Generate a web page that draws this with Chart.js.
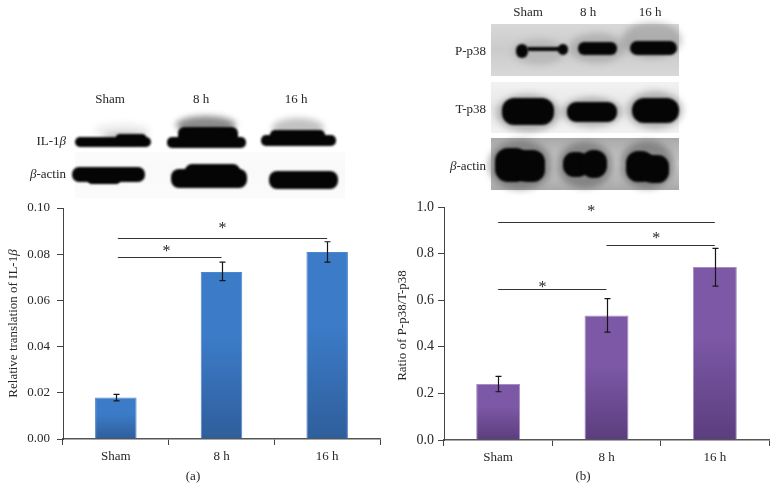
<!DOCTYPE html>
<html>
<head>
<meta charset="utf-8">
<title>IL-1b and P-p38</title>
<script src="https://cdn.jsdelivr.net/npm/chart.js@4"></script>
<style>
    html, body { margin: 0; padding: 0; background: #fff; overflow: hidden; }
    canvas { position: absolute; top: 0; }
    #chart-a { left: 0; }
    #chart-b { left: 389px; }
</style>
</head>
<body>
<canvas id="chart-a" width="389" height="491"></canvas>
<canvas id="chart-b" width="389" height="491"></canvas>
<script>
const categories = ['Sham', '8 h', '16 h'];

// panel (a)
const il1Values = [0.018, 0.0723, 0.0809];
const il1High = [0.0193, 0.0766, 0.0854];
const il1Low = [0.0165, 0.0686, 0.0766];
const il1Ticks = ['0.00', '0.02', '0.04', '0.06', '0.08', '0.10'];
// [from category, to category, level]
const il1Brackets = [[0, 1, 0.0786], [0, 2, 0.0871]];
// [category position, level]
const il1Stars = [[0.48, 0.0823], [1.01, 0.0923]];

// panel (b)
const p38Values = [0.24, 0.534, 0.742];
const p38High = [0.273, 0.607, 0.822];
const p38Low = [0.207, 0.463, 0.66];
const p38Ticks = ['0.0', '0.2', '0.4', '0.6', '0.8', '1.0'];
const p38Brackets = [[0, 1, 0.647], [1, 2, 0.839], [0, 2, 0.935]];
const p38Stars = [[0.41, 0.668], [1.46, 0.876], [0.86, 0.993]];

const FONT = '"Liberation Serif", serif';
const TEXT = '#262626';

// write a row of text pieces, some of them italic, centred or right aligned on x
function writeRuns(ctx, runs, x, y, align, size) {
    ctx.save();
    ctx.fillStyle = TEXT;
    ctx.textBaseline = 'middle';
    ctx.textAlign = 'left';
    let total = 0;
    runs.forEach(r => {
        ctx.font = (r[1] ? 'italic ' : '') + size + 'px ' + FONT;
        total += ctx.measureText(r[0]).width;
    });
    let cx = align == 'right' ? x - total : x - total / 2;
    runs.forEach(r => {
        ctx.font = (r[1] ? 'italic ' : '') + size + 'px ' + FONT;
        ctx.fillText(r[0], cx, y);
        cx += ctx.measureText(r[0]).width;
    });
    ctx.restore();
}

// western blot strips, these are photos in the source so just soft dark shapes
const blotsPlugin = {
    id: 'blots',
    beforeDraw(chart, args, opts) {
        const ctx = chart.ctx;
        ctx.save();
        (opts.panels || []).forEach(p => {
            const g = ctx.createLinearGradient(0, p[1], 0, p[1] + p[3]);
            g.addColorStop(0, p[4]);
            g.addColorStop(0.5, p[5]);
            g.addColorStop(1, p[4]);
            ctx.fillStyle = g;
            ctx.fillRect(p[0], p[1], p[2], p[3]);
        });
        (opts.haze || []).forEach(b => {
            ctx.filter = 'blur(3px)';
            ctx.fillStyle = b[4];
            ctx.beginPath();
            ctx.ellipse(b[0], b[1], b[2], b[3], 0, 0, Math.PI * 2);
            ctx.fill();
        });
        ctx.filter = 'blur(1.2px)';
        ctx.fillStyle = '#050505';
        (opts.bands || []).forEach(b => {
            ctx.beginPath();
            ctx.roundRect(b[0], b[1], b[2], b[3], b[4]);
            ctx.fill();
        });
        ctx.filter = 'none';
        ctx.restore();
        (opts.labels || []).forEach(l => writeRuns(ctx, l[0], l[1], l[2], l[3], 13));
    }
};

// error bars, brackets, stars and the y title with its italic beta
const extrasPlugin = {
    id: 'extras',
    afterDatasetsDraw(chart, args, opts) {
        const ctx = chart.ctx, x = chart.scales.x, y = chart.scales.y;
        ctx.save();
        ctx.strokeStyle = '#161616';
        ctx.lineWidth = 1.2;
        ctx.beginPath();
        opts.high.forEach((hi, i) => {
            const px = Math.round(x.getPixelForValue(i)) + 0.5;
            const top = y.getPixelForValue(hi), bot = y.getPixelForValue(opts.low[i]);
            ctx.moveTo(px, top); ctx.lineTo(px, bot);
            ctx.moveTo(px - 3, top); ctx.lineTo(px + 3, top);
            ctx.moveTo(px - 3, bot); ctx.lineTo(px + 3, bot);
        });
        ctx.stroke();
        ctx.strokeStyle = '#333';
        ctx.lineWidth = 1.2;
        ctx.beginPath();
        opts.brackets.forEach(b => {
            const py = Math.round(y.getPixelForValue(b[2])) + 0.5;
            ctx.moveTo(x.getPixelForValue(b[0]) + opts.inset, py);
            ctx.lineTo(x.getPixelForValue(b[1]), py);
        });
        ctx.stroke();
        ctx.fillStyle = TEXT;
        ctx.font = '16px ' + FONT;
        ctx.textAlign = 'center';
        ctx.textBaseline = 'middle';
        opts.stars.forEach(s => {
            ctx.fillText('*', x.getPixelForValue(s[0]), y.getPixelForValue(s[1]) + 3);
        });
        ctx.translate(opts.titleX, (y.top + y.bottom) / 2 + opts.titleShift);
        ctx.rotate(-Math.PI / 2);
        writeRuns(ctx, opts.title, 0, 0, 'center', 13);
        ctx.restore();
        writeRuns(ctx, [[opts.caption, false]], opts.captionX, 477, 'center', 13);
    }
};

function makeChart(id, cfg) {
    const barFill = c => {
        const area = c.chart.chartArea;
        if (!area) return cfg.top;
        const y = c.chart.scales.y;
        const g = c.chart.ctx.createLinearGradient(0, y.getPixelForValue(c.raw), 0, area.bottom);
        g.addColorStop(0, cfg.top);
        g.addColorStop(0.4, cfg.top);
        g.addColorStop(1, cfg.bottom);
        return g;
    };
    return new Chart(document.getElementById(id), {
        type: 'bar',
        data: {
            labels: categories,
            datasets: [{
                data: cfg.values,
                backgroundColor: barFill,
                borderColor: cfg.edge,
                borderWidth: { left: 1, right: 1, top: 1, bottom: 0 },
                barPercentage: cfg.barPct,
                categoryPercentage: 1
            }]
        },
        plugins: [blotsPlugin, extrasPlugin],
        options: {
            responsive: false,
            animation: false,
            devicePixelRatio: 1,
            layout: { padding: { top: cfg.top_, right: 9, left: 0, bottom: 0 } },
            plugins: {
                legend: { display: false },
                tooltip: { enabled: false },
                blots: cfg.blots,
                extras: cfg.extras
            },
            scales: {
                x: {
                    afterFit: s => { s.height = cfg.xHeight; },
                    border: { color: '#555', width: 1.5 },
                    grid: { drawOnChartArea: false, color: '#444', tickLength: 6 },
                    ticks: { color: TEXT, font: { family: FONT, size: 13 }, padding: 4, maxRotation: 0 }
                },
                y: {
                    min: 0,
                    max: cfg.max,
                    afterFit: s => { s.width = cfg.yWidth; },
                    afterBuildTicks: s => {
                        s.ticks = cfg.ticks.map(t => ({ value: +t, label: t }));
                    },
                    border: { color: '#444', width: 1 },
                    grid: { drawOnChartArea: false, color: '#444', tickLength: 6 },
                    ticks: {
                        color: TEXT,
                        font: { family: FONT, size: cfg.tickSize },
                        padding: cfg.tickPad,
                        callback: (v, i) => cfg.ticks[i]
                    }
                }
            }
        }
    });
}

makeChart('chart-a', {
    values: il1Values, ticks: il1Ticks, max: 0.1, tickSize: 13, tickPad: 7,
    top: '#3c7bc8', bottom: '#2f5e9b', edge: '#4d86cc', barPct: 0.393,
    top_: 208, xHeight: 52, yWidth: 63,
    extras: {
        high: il1High, low: il1Low, brackets: il1Brackets, stars: il1Stars, inset: 2,
        titleX: 14, titleShift: 0, caption: '(a)', captionX: 193,
        title: [['Relative translation of IL-1', false], ['β', true]]
    },
    blots: {
        panels: [[75, 152, 270, 46, '#fbfbfb', '#f9f9f9']],
        haze: [
            [206, 125, 30, 9, 'rgba(60,60,60,0.6)'], [298, 128, 26, 10, 'rgba(120,120,120,0.45)'],
            [122, 130, 28, 7, 'rgba(200,200,200,0.3)'], [125, 137, 22, 4, 'rgba(120,120,120,0.5)']
        ],
        bands: [
            [75, 137, 76, 10, 5], [116, 134, 30, 10, 4],
            [167, 137, 79, 11, 5], [178, 127, 60, 18, 6],
            [261, 135, 75, 11, 5], [270, 130, 55, 12, 5],
            [72, 167, 73, 15, 7], [88, 172, 32, 12, 4],
            [171, 169, 76, 19, 8], [185, 164, 55, 16, 7],
            [269, 171, 69, 18, 8]
        ],
        labels: [
            [[['Sham', false]], 110, 100, 'center'], [[['8 h', false]], 201, 100, 'center'], [[['16 h', false]], 296, 100, 'center'],
            [[['IL-1', false], ['β', true]], 66, 142, 'right'],
            [[['β', true], ['-actin', false]], 66, 175, 'right']
        ]
    }
});

makeChart('chart-b', {
    values: p38Values, ticks: p38Ticks, max: 1, tickSize: 14, tickPad: 4,
    top: '#7d58a6', bottom: '#5b3e7e', edge: '#a48fc0', barPct: 0.406,
    top_: 207, xHeight: 51, yWidth: 55,
    extras: {
        high: p38High, low: p38Low, brackets: p38Brackets, stars: p38Stars, inset: 0,
        titleX: 14, titleShift: 2, caption: '(b)', captionX: 194,
        title: [['Ratio of P-p38/T-p38', false]]
    },
    blots: {
        panels: [
            [102, 24, 188, 52, '#d8d8d8', '#cbcbcb'],
            [102, 82, 188, 51, '#f2f2f2', '#e6e6e6'],
            [102, 138, 188, 52, '#a9a9a9', '#c9c9c9']
        ],
        haze: [
            [150, 52, 26, 13, 'rgba(120,120,120,0.25)'], [208, 48, 28, 15, 'rgba(110,110,110,0.3)'], [263, 40, 30, 18, 'rgba(90,90,90,0.3)'],
            [139, 113, 32, 19, 'rgba(90,90,90,0.4)'], [203, 112, 30, 15, 'rgba(90,90,90,0.4)'], [266, 110, 28, 19, 'rgba(90,90,90,0.4)'],
            [131, 165, 32, 25, 'rgba(60,60,60,0.4)'], [196, 165, 28, 23, 'rgba(60,60,60,0.4)'], [258, 165, 27, 24, 'rgba(60,60,60,0.4)']
        ],
        bands: [
            [127, 44, 12, 14, 6], [138, 47, 34, 4, 2], [169, 44, 10, 11, 5],
            [189, 42, 39, 13, 6], [241, 41, 47, 14, 7],
            [113, 98, 52, 27, 12], [178, 102, 50, 20, 9], [243, 98, 47, 25, 12],
            [106, 148, 34, 34, 13], [126, 150, 30, 32, 12],
            [174, 152, 26, 25, 11], [192, 150, 26, 28, 12],
            [237, 151, 28, 31, 12], [252, 155, 28, 28, 11]
        ],
        labels: [
            [[['Sham', false]], 139, 13, 'center'], [[['8 h', false]], 199, 13, 'center'], [[['16 h', false]], 261, 13, 'center'],
            [[['P-p38', false]], 97, 52, 'right'],
            [[['T-p38', false]], 97, 110, 'right'],
            [[['β', true], ['-actin', false]], 97, 167, 'right']
        ]
    }
});
</script>
</body>
</html>
